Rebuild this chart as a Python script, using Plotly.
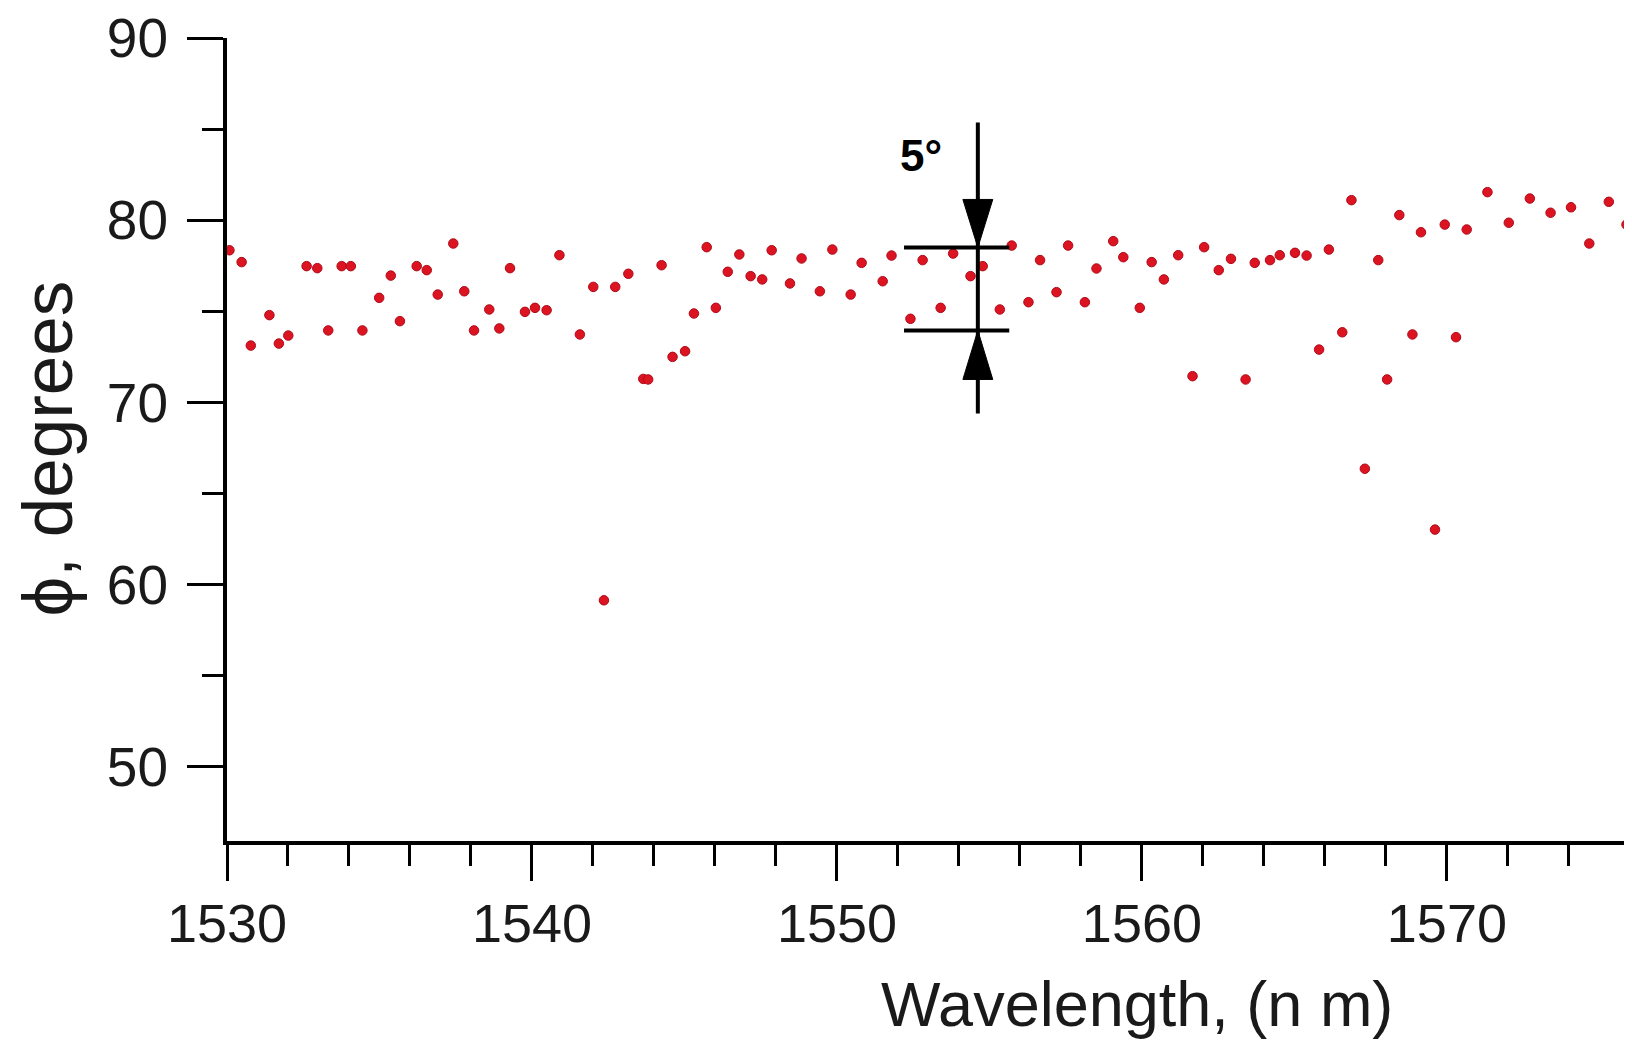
import plotly.graph_objects as go

# ---- data ----
wavelength = [
    1530.08, 1530.48, 1530.78, 1531.39, 1531.70, 1532.01, 1532.61, 1532.96, 1533.32, 1533.76,
    1534.06, 1534.44, 1534.99, 1535.37, 1535.67, 1536.22, 1536.55, 1536.91, 1537.42, 1537.78,
    1538.10, 1538.60, 1538.93, 1539.28, 1539.77, 1540.10, 1540.48, 1540.90, 1541.57, 1542.01,
    1542.36, 1542.73, 1543.16, 1543.65, 1543.81, 1544.25, 1544.61, 1545.02, 1545.31, 1545.73,
    1546.03, 1546.42, 1546.80, 1547.17, 1547.55, 1547.86, 1548.46, 1548.84, 1549.44, 1549.85,
    1550.45, 1550.81, 1551.50, 1551.79, 1552.41, 1552.81, 1553.40, 1553.81, 1554.38, 1554.78,
    1555.34, 1555.73, 1556.28, 1556.66, 1557.20, 1557.58, 1558.13, 1558.51, 1559.06, 1559.39,
    1559.93, 1560.32, 1560.72, 1561.19, 1561.66, 1562.04, 1562.52, 1562.92, 1563.40, 1563.70,
    1564.20, 1564.52, 1565.02, 1565.40, 1565.81, 1566.13, 1566.57, 1566.87, 1567.31, 1567.75,
    1568.04, 1568.44, 1568.87, 1569.15, 1569.61, 1569.93, 1570.30, 1570.65, 1571.33, 1572.03,
    1572.72, 1573.40, 1574.07, 1574.67, 1575.31, 1575.89,
]
phi_deg = [
    78.35, 77.70, 73.12, 74.79, 73.23, 73.67, 77.48, 77.37, 73.95, 77.48,
    77.48, 73.95, 75.74, 76.96, 74.46, 77.48, 77.26, 75.92, 78.72, 76.10,
    73.95, 75.10, 74.06, 77.37, 74.97, 75.19, 75.06, 78.08, 73.73, 76.34,
    59.14, 76.34, 77.06, 71.29, 71.26, 77.53, 72.50, 72.81, 74.88, 78.52,
    75.19, 77.17, 78.12, 76.93, 76.75, 78.35, 76.53, 77.90, 76.10, 78.39,
    75.92, 77.66, 76.65, 78.06, 74.59, 77.81, 75.19, 78.17, 76.93, 77.48,
    75.10, 78.61, 75.50, 77.81, 76.05, 78.61, 75.50, 77.35, 78.85, 77.97,
    75.19, 77.70, 76.75, 78.08, 71.44, 78.52, 77.26, 77.88, 71.26, 77.66,
    77.81, 78.08, 78.21, 78.06, 72.90, 78.39, 73.85, 81.10, 66.36, 77.81,
    71.26, 80.28, 73.73, 79.34, 63.02, 79.76, 73.58, 79.49, 81.54, 79.86,
    81.19, 80.41, 80.71, 78.72, 81.01, 79.76,
]

x_ticks = [1530, 1540, 1550, 1560, 1570]
x_ticklabels = ["1530", "1540", "1550", "1560", "1570"]
y_ticks = [50, 60, 70, 80, 90]
y_ticklabels = ["50", "60", "70", "80", "90"]

# ---- "5°" marker geometry (annotation) ----
arrow_x = 1554.62
band_top, band_bot = 78.5, 73.95
band_x0, band_x1 = 1552.2, 1555.65
line_top, line_bot = 85.36, 69.39
head_top_base, head_bot_base = 81.14, 71.26
head_half = 0.49

FONT = "Liberation Sans, Arial, sans-serif"
TXT = "#1a1a1a"

fig = go.Figure()
fig.add_trace(go.Scatter(
    x=wavelength, y=phi_deg, mode="markers",
    marker=dict(size=9.5, color="#dc1422", line=dict(width=1, color="#b00a18")),
    showlegend=False, hoverinfo="x+y",
))

shapes = [
    dict(type="line", xref="x", yref="y", x0=arrow_x, x1=arrow_x, y0=line_bot, y1=line_top,
         line=dict(color="black", width=4)),
    dict(type="line", xref="x", yref="y", x0=band_x0, x1=band_x1, y0=band_top, y1=band_top,
         line=dict(color="black", width=4)),
    dict(type="line", xref="x", yref="y", x0=band_x0, x1=band_x1, y0=band_bot, y1=band_bot,
         line=dict(color="black", width=4)),
    dict(type="path", xref="x", yref="y",
         path=f"M {arrow_x - head_half},{head_top_base} L {arrow_x + head_half},{head_top_base} L {arrow_x},{band_top} Z",
         fillcolor="black", line=dict(color="black", width=1)),
    dict(type="path", xref="x", yref="y",
         path=f"M {arrow_x - head_half},{head_bot_base} L {arrow_x + head_half},{head_bot_base} L {arrow_x},{band_bot} Z",
         fillcolor="black", line=dict(color="black", width=1)),
]

annotations = [
    dict(text="<b>5°</b>", x=1552.75, y=83.55, xref="x", yref="y", showarrow=False,
         font=dict(family=FONT, size=44, color="black"), xanchor="center", yanchor="middle"),
    dict(text="Wavelength, (n m)", x=0.648, y=-0.203, xref="paper", yref="paper", showarrow=False,
         font=dict(family=FONT, size=63, color=TXT), xanchor="center", yanchor="middle"),
    dict(text="ϕ, degrees", x=-0.128, y=0.489, xref="paper", yref="paper", showarrow=False,
         textangle=-90, font=dict(family=FONT, size=71, color=TXT), xanchor="center", yanchor="middle"),
]

# the page body adds an 8px offset; the figure is sized so the plot lands where the reference has it
fig.update_layout(
    width=1624, height=1037,
    margin=dict(l=219, r=0, t=30, b=204, autoexpand=False),
    paper_bgcolor="white", plot_bgcolor="white",
    shapes=shapes, annotations=annotations,
    font=dict(family=FONT, color=TXT),
)
fig.update_xaxes(
    range=[1530, 1576.07], showgrid=False, zeroline=False, automargin=False,
    showline=True, linecolor="black", linewidth=4,
    tickmode="array", tickvals=x_ticks, ticktext=x_ticklabels,
    ticks="outside", ticklen=36, tickwidth=3, tickcolor="black",
    minor=dict(dtick=2, tick0=1530, ticks="outside", ticklen=21, tickwidth=3, tickcolor="black"),
    tickfont=dict(family=FONT, size=54, color=TXT),
    ticklabelstandoff=-4, ticklabeloverflow="allow",
)
fig.update_yaxes(
    range=[45.93, 90], showgrid=False, zeroline=False, automargin=False,
    showline=True, linecolor="black", linewidth=4,
    tickmode="array", tickvals=y_ticks, ticktext=y_ticklabels,
    ticks="outside", ticklen=36, tickwidth=3, tickcolor="black",
    minor=dict(dtick=5, tick0=50, ticks="outside", ticklen=21, tickwidth=3, tickcolor="black"),
    tickfont=dict(family=FONT, size=55, color=TXT),
    ticklabelstandoff=8, ticklabeloverflow="allow",
)

fig.write_html("out.html")
